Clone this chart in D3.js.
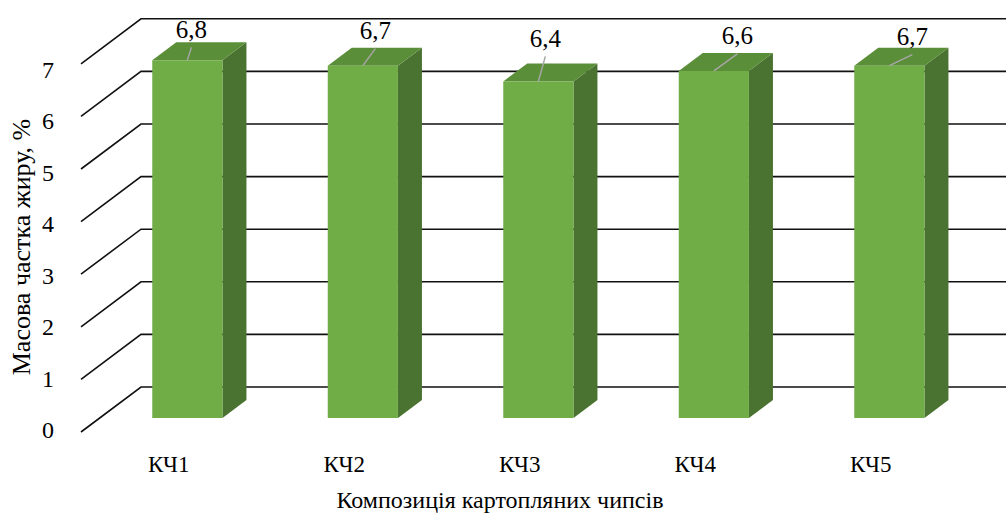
<!DOCTYPE html>
<html>
<head>
<meta charset="utf-8">
<script src="https://cdn.jsdelivr.net/npm/d3@7"></script>
<style>
  html, body { margin: 0; padding: 0; background: #fff; }
  svg { display: block; }
</style>
</head>
<body>
<div id="chart"></div>
<script>
// Fat content of potato chip compositions
const categories = ["КЧ1", "КЧ2", "КЧ3", "КЧ4", "КЧ5"];
const fatShare = [6.8, 6.7, 6.4, 6.6, 6.7];
const yTicks = [0, 1, 2, 3, 4, 5, 6, 7];
const xTitle = "Композиція картопляних чипсів";
const yTitle = "Масова частка жиру, %";
// value-label placement relative to the top of each column (label callouts)
const labelShift = [[4, -31], [12.5, -35], [7, -43], [23.5, -35], [23, -29]];

const FONT = "'Liberation Serif', 'DejaVu Serif', serif";
const W = 1006, H = 514;
const svg = d3.select("#chart").append("svg")
  .attr("width", W).attr("height", H)
  .attr("font-family", FONT);

// Oblique 3D frame: front plane plus a depth vector to the back wall
const floorY = 432, left = 81, plotW = 877.5;
const DX = 60, DY = 45;
const depthFront = 0.31, depthBack = 0.71;

const x = d3.scaleBand().domain(categories).range([left, left + plotW])
  .paddingInner(0.6).paddingOuter(0.3);
const y = d3.scaleLinear().domain([0, 7]).range([floorY, floorY - 7 * 52.6]);
const yLabel = d3.scaleLinear().domain([0, 7]).range([430, 69.5]);

const P = (px, v, t) => [px + t * DX, y(v) - t * DY];
const poly = pts => "M" + pts.map(p => p.join(",")).join("L") + "Z";

// Gridlines: side wall diagonal + back wall horizontal
const grid = svg.append("g");
yTicks.forEach(v => {
  const a = P(left, v, 0), b = P(left, v, 1), c = P(left + plotW, v, 1);
  grid.append("path")
    .attr("d", `M${a}L${b}L${c}`)
    .attr("fill", "none").attr("stroke", "#111").attr("stroke-width", 1.6);
});

function txt(sel, size) {
  return sel.attr("font-family", FONT).attr("font-size", size).attr("fill", "#000");
}

// Value axis labels
txt(svg.append("g").selectAll("text").data(yTicks).join("text")
  .attr("x", 54).attr("y", d => yLabel(d))
  .attr("text-anchor", "end").attr("dominant-baseline", "central")
  .text(d => d), 24);

// Columns
const colFront = "#70AD47", colTop = "#5B8E39", colSide = "#4A7230";
const bars = svg.append("g");
categories.forEach((c, i) => {
  const v = fatShare[i];
  const x0 = x(c), x1 = x(c) + x.bandwidth();
  bars.append("path").attr("fill", colSide)
    .attr("d", poly([P(x1, 0, depthFront), P(x1, 0, depthBack), P(x1, v, depthBack), P(x1, v, depthFront)]));
  bars.append("path").attr("fill", colTop)
    .attr("d", poly([P(x0, v, depthFront), P(x1, v, depthFront), P(x1, v, depthBack), P(x0, v, depthBack)]));
  bars.append("path").attr("fill", colFront)
    .attr("d", poly([P(x0, 0, depthFront), P(x1, 0, depthFront), P(x1, v, depthFront), P(x0, v, depthFront)]));
});

// Value labels with leader lines
const labels = svg.append("g");
categories.forEach((c, i) => {
  const v = fatShare[i];
  const anchor = P(x(c) + x.bandwidth() / 2, v, depthFront);
  const [dx, dy] = labelShift[i];
  const lx = anchor[0] + dx, ly = anchor[1] + dy;
  labels.append("line")
    .attr("x1", anchor[0]).attr("y1", anchor[1])
    .attr("x2", lx).attr("y2", ly + 18)
    .attr("stroke", "#A6A6A6").attr("stroke-width", 1.5);
  txt(labels.append("text")
    .attr("x", lx).attr("y", ly)
    .attr("text-anchor", "middle").attr("dominant-baseline", "central")
    .text(d3.format(".1f")(v).replace(".", ",")), 25);
});

// Category labels
txt(svg.append("g").selectAll("text").data(categories).join("text")
  .attr("x", d => x(d) + x.bandwidth() / 2).attr("y", 472)
  .attr("text-anchor", "middle")
  .text(d => d), 23);

// Axis titles
txt(svg.append("text")
  .attr("x", 500).attr("y", 508)
  .attr("text-anchor", "middle")
  .text(xTitle), 24);

txt(svg.append("text")
  .attr("transform", "translate(21,247) rotate(-90)")
  .attr("text-anchor", "middle").attr("dominant-baseline", "central")
  .text(yTitle), 26);
</script>
</body>
</html>
